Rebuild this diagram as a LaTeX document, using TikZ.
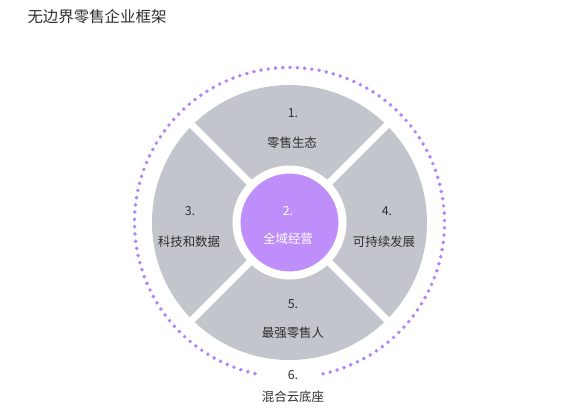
\documentclass[tikz,border=0pt]{standalone}
\usepackage{fontspec}
\setmainfont{Noto Sans CJK SC}
\usetikzlibrary{positioning}
\definecolor{fwgray}{HTML}{C2C6CC}
\definecolor{fwpurple}{HTML}{BE8EFA}
\definecolor{fwdot}{HTML}{B384F6}
\definecolor{fwtext}{HTML}{2E2E2E}
\tikzset{
  ring/.style={circle,fill=fwgray,minimum size=275bp,inner sep=0pt},
  core/.style={circle,fill=fwpurple,draw=white,line width=8bp,minimum size=106bp,inner sep=0pt},
  sep/.style={draw=white,line width=7bp},
  dots/.style={draw=fwdot,line width=3.9bp,line cap=round,dash pattern=on 0pt off 7.3bp},
  num/.style={font=\fontsize{12.5}{14}\selectfont,text=fwtext},
  part/.style={font=\fontsize{12.5}{14}\selectfont,text=fwtext},
  title/.style={font=\fontsize{15.5}{18}\selectfont,text=fwtext},
}
\begin{document}
\begin{tikzpicture}[x=1bp,y=1bp]
  \useasboundingbox (0,0) rectangle (574,415);
  \node[title,anchor=west] (ttl) at (24,398) {无边界零售企业框架};
  \coordinate (c) at (289.5,192.5);
  \node[ring] (rng) at (c) {};
  \foreach \a in {45,135,225,315}
    \draw[sep] (c) -- ++(\a:150);
  \node[core] (mid) at (c) {};
  \draw[dots] ([shift={(-77.5:155)}]c) arc[start angle=-77.5,end angle=257.5,radius=155];
  % labels
  \node[num] (n1) at (293,302) {1.};
  \node[part] (p1) at (292,272) {零售生态};
  \node[num,text=white] (n2) at (288,204) {2.};
  \node[part,text=white] (p2) at (288,176) {全域经营};
  \node[num] (n3) at (190,204) {3.};
  \node[part] (p3) at (189,173) {科技和数据};
  \node[num] (n4) at (387,204) {4.};
  \node[part] (p4) at (384,173) {可持续发展};
  \node[num] (n5) at (293,111) {5.};
  \node[part] (p5) at (293,82) {最强零售人};
  \node[num] (n6) at (293,40) {6.};
  \node[part] (p6) at (293,18) {混合云底座};
\end{tikzpicture}
\end{document}
